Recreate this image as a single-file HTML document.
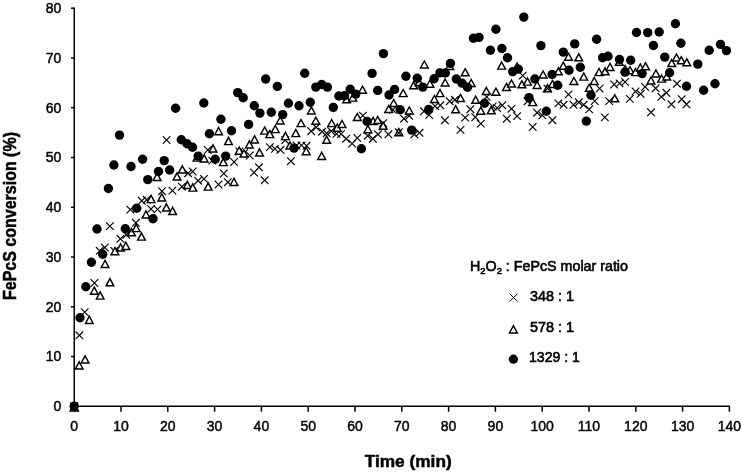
<!DOCTYPE html>
<html><head><meta charset="utf-8"><title>FePcS conversion</title>
<style>
html,body{margin:0;padding:0;background:#fff;}
body{width:742px;height:472px;overflow:hidden;}
svg{display:block;will-change:transform;filter:grayscale(1);}
text{font-family:"Liberation Sans",sans-serif;fill:#000;}
.tk{font-size:14px;stroke:#000;stroke-width:0.45px;}
.lg{font-size:14.5px;stroke:#000;stroke-width:0.6px;}
.ti{font-size:17px;font-weight:bold;stroke:#000;stroke-width:0.5px;}
</style></head><body>
<svg width="742" height="472" viewBox="0 0 742 472">
<rect width="742" height="472" fill="#fff"/>

<g stroke="#000" stroke-width="1.5" fill="none">
<path d="M74.25 7.499999999999999V407.0"/>
<path d="M73.55 406.3H730.1"/>
<path d="M71.0 406.3H74.25"/>
<path d="M71.0 356.5H74.25"/>
<path d="M71.0 306.8H74.25"/>
<path d="M71.0 257.0H74.25"/>
<path d="M71.0 207.3H74.25"/>
<path d="M71.0 157.5H74.25"/>
<path d="M71.0 107.7H74.25"/>
<path d="M71.0 58.0H74.25"/>
<path d="M71.0 8.2H74.25"/>
<path d="M74.2 406.3V411.7"/>
<path d="M121.0 406.3V411.7"/>
<path d="M167.8 406.3V411.7"/>
<path d="M214.6 406.3V411.7"/>
<path d="M261.4 406.3V411.7"/>
<path d="M308.2 406.3V411.7"/>
<path d="M355.0 406.3V411.7"/>
<path d="M401.8 406.3V411.7"/>
<path d="M448.6 406.3V411.7"/>
<path d="M495.4 406.3V411.7"/>
<path d="M542.2 406.3V411.7"/>
<path d="M589.0 406.3V411.7"/>
<path d="M635.8 406.3V411.7"/>
<path d="M682.6 406.3V411.7"/>
<path d="M729.4 406.3V411.7"/>
</g>
<text class="tk" x="61.3" y="411.1" text-anchor="end">0</text>
<text class="tk" x="61.3" y="361.3" text-anchor="end">10</text>
<text class="tk" x="61.3" y="311.6" text-anchor="end">20</text>
<text class="tk" x="61.3" y="261.8" text-anchor="end">30</text>
<text class="tk" x="61.3" y="212.1" text-anchor="end">40</text>
<text class="tk" x="61.3" y="162.3" text-anchor="end">50</text>
<text class="tk" x="61.3" y="112.5" text-anchor="end">60</text>
<text class="tk" x="61.3" y="62.8" text-anchor="end">70</text>
<text class="tk" x="61.3" y="13.0" text-anchor="end">80</text>
<text class="tk" x="74.2" y="430.5" text-anchor="middle">0</text>
<text class="tk" x="121.0" y="430.5" text-anchor="middle">10</text>
<text class="tk" x="167.8" y="430.5" text-anchor="middle">20</text>
<text class="tk" x="214.6" y="430.5" text-anchor="middle">30</text>
<text class="tk" x="261.4" y="430.5" text-anchor="middle">40</text>
<text class="tk" x="308.2" y="430.5" text-anchor="middle">50</text>
<text class="tk" x="355.0" y="430.5" text-anchor="middle">60</text>
<text class="tk" x="401.8" y="430.5" text-anchor="middle">70</text>
<text class="tk" x="448.6" y="430.5" text-anchor="middle">80</text>
<text class="tk" x="495.4" y="430.5" text-anchor="middle">90</text>
<text class="tk" x="542.2" y="430.5" text-anchor="middle">100</text>
<text class="tk" x="589.0" y="430.5" text-anchor="middle">110</text>
<text class="tk" x="635.8" y="430.5" text-anchor="middle">120</text>
<text class="tk" x="682.6" y="430.5" text-anchor="middle">130</text>
<text class="tk" x="729.4" y="430.5" text-anchor="middle">140</text>
<text class="ti" x="408.2" y="466.8" text-anchor="middle" textLength="87" lengthAdjust="spacingAndGlyphs">Time (min)</text>
<text class="ti" transform="translate(15.7 216) rotate(-90)" text-anchor="middle" textLength="168" style="font-size:17.5px" lengthAdjust="spacingAndGlyphs">FePcS conversion (%)</text>
<g id="sx">
<path d="M70.3 402.6L78.2 410.4M70.3 410.4L78.2 402.6" stroke="#000" stroke-width="1.4" fill="none"/>
<path d="M75.6 331.5L83.2 339.1M75.6 339.1L83.2 331.5" stroke="#000" stroke-width="1.15" fill="none"/>
<path d="M80.9 308.3L88.5 315.9M80.9 315.9L88.5 308.3" stroke="#000" stroke-width="1.15" fill="none"/>
<path d="M90.6 279.2L98.2 286.8M90.6 286.8L98.2 279.2" stroke="#000" stroke-width="1.15" fill="none"/>
<path d="M95.9 247.0L103.5 254.6M95.9 254.6L103.5 247.0" stroke="#000" stroke-width="1.15" fill="none"/>
<path d="M101.0 243.7L108.6 251.3M101.0 251.3L108.6 243.7" stroke="#000" stroke-width="1.15" fill="none"/>
<path d="M106.1 222.3L113.7 229.9M106.1 229.9L113.7 222.3" stroke="#000" stroke-width="1.15" fill="none"/>
<path d="M110.5 247.2L118.1 254.8M110.5 254.8L118.1 247.2" stroke="#000" stroke-width="1.15" fill="none"/>
<path d="M116.6 235.0L124.2 242.6M116.6 242.6L124.2 235.0" stroke="#000" stroke-width="1.15" fill="none"/>
<path d="M122.5 231.0L130.1 238.6M122.5 238.6L130.1 231.0" stroke="#000" stroke-width="1.15" fill="none"/>
<path d="M126.5 205.8L134.1 213.4M126.5 213.4L134.1 205.8" stroke="#000" stroke-width="1.15" fill="none"/>
<path d="M132.1 219.0L139.7 226.6M132.1 226.6L139.7 219.0" stroke="#000" stroke-width="1.15" fill="none"/>
<path d="M138.0 197.0L145.6 204.6M138.0 204.6L145.6 197.0" stroke="#000" stroke-width="1.15" fill="none"/>
<path d="M142.9 196.0L150.5 203.6M142.9 203.6L150.5 196.0" stroke="#000" stroke-width="1.15" fill="none"/>
<path d="M147.2 205.2L154.8 212.8M147.2 212.8L154.8 205.2" stroke="#000" stroke-width="1.15" fill="none"/>
<path d="M153.7 205.6L161.3 213.2M153.7 213.2L161.3 205.6" stroke="#000" stroke-width="1.15" fill="none"/>
<path d="M158.2 187.4L165.8 195.0M158.2 195.0L165.8 187.4" stroke="#000" stroke-width="1.15" fill="none"/>
<path d="M162.8 136.2L170.4 143.8M162.8 143.8L170.4 136.2" stroke="#000" stroke-width="1.15" fill="none"/>
<path d="M168.6 186.8L176.2 194.4M168.6 194.4L176.2 186.8" stroke="#000" stroke-width="1.15" fill="none"/>
<path d="M178.1 182.9L185.7 190.5M178.1 190.5L185.7 182.9" stroke="#000" stroke-width="1.15" fill="none"/>
<path d="M184.3 169.4L191.9 177.0M184.3 177.0L191.9 169.4" stroke="#000" stroke-width="1.15" fill="none"/>
<path d="M188.9 167.7L196.5 175.3M188.9 175.3L196.5 167.7" stroke="#000" stroke-width="1.15" fill="none"/>
<path d="M194.3 176.9L201.9 184.5M194.3 184.5L201.9 176.9" stroke="#000" stroke-width="1.15" fill="none"/>
<path d="M200.2 175.1L207.8 182.7M200.2 182.7L207.8 175.1" stroke="#000" stroke-width="1.15" fill="none"/>
<path d="M204.0 146.2L211.6 153.8M204.0 153.8L211.6 146.2" stroke="#000" stroke-width="1.15" fill="none"/>
<path d="M208.5 156.8L216.1 164.4M208.5 164.4L216.1 156.8" stroke="#000" stroke-width="1.15" fill="none"/>
<path d="M214.7 180.7L222.3 188.3M214.7 188.3L222.3 180.7" stroke="#000" stroke-width="1.15" fill="none"/>
<path d="M220.0 169.7L227.6 177.3M220.0 177.3L227.6 169.7" stroke="#000" stroke-width="1.15" fill="none"/>
<path d="M224.1 178.4L231.7 186.0M224.1 186.0L231.7 178.4" stroke="#000" stroke-width="1.15" fill="none"/>
<path d="M230.3 158.2L237.9 165.8M230.3 165.8L237.9 158.2" stroke="#000" stroke-width="1.15" fill="none"/>
<path d="M235.6 147.7L243.2 155.3M235.6 155.3L243.2 147.7" stroke="#000" stroke-width="1.15" fill="none"/>
<path d="M240.4 149.2L248.0 156.8M240.4 156.8L248.0 149.2" stroke="#000" stroke-width="1.15" fill="none"/>
<path d="M245.9 151.7L253.5 159.3M245.9 159.3L253.5 151.7" stroke="#000" stroke-width="1.15" fill="none"/>
<path d="M250.2 168.7L257.8 176.3M250.2 176.3L257.8 168.7" stroke="#000" stroke-width="1.15" fill="none"/>
<path d="M255.2 163.5L262.8 171.1M255.2 171.1L262.8 163.5" stroke="#000" stroke-width="1.15" fill="none"/>
<path d="M260.9 176.5L268.5 184.1M260.9 184.1L268.5 176.5" stroke="#000" stroke-width="1.15" fill="none"/>
<path d="M266.1 143.3L273.7 150.9M266.1 150.9L273.7 143.3" stroke="#000" stroke-width="1.15" fill="none"/>
<path d="M271.2 145.1L278.8 152.7M271.2 152.7L278.8 145.1" stroke="#000" stroke-width="1.15" fill="none"/>
<path d="M276.7 146.0L284.3 153.6M276.7 153.6L284.3 146.0" stroke="#000" stroke-width="1.15" fill="none"/>
<path d="M281.4 136.4L289.0 144.0M281.4 144.0L289.0 136.4" stroke="#000" stroke-width="1.15" fill="none"/>
<path d="M287.1 157.4L294.7 165.0M287.1 165.0L294.7 157.4" stroke="#000" stroke-width="1.15" fill="none"/>
<path d="M292.7 141.7L300.3 149.3M292.7 149.3L300.3 141.7" stroke="#000" stroke-width="1.15" fill="none"/>
<path d="M297.7 141.6L305.3 149.2M297.7 149.2L305.3 141.6" stroke="#000" stroke-width="1.15" fill="none"/>
<path d="M302.8 142.0L310.4 149.6M302.8 149.6L310.4 142.0" stroke="#000" stroke-width="1.15" fill="none"/>
<path d="M307.3 127.4L314.9 135.0M307.3 135.0L314.9 127.4" stroke="#000" stroke-width="1.15" fill="none"/>
<path d="M312.4 123.5L320.0 131.1M312.4 131.1L320.0 123.5" stroke="#000" stroke-width="1.15" fill="none"/>
<path d="M318.3 127.9L325.9 135.5M318.3 135.5L325.9 127.9" stroke="#000" stroke-width="1.15" fill="none"/>
<path d="M322.9 129.5L330.5 137.1M322.9 137.1L330.5 129.5" stroke="#000" stroke-width="1.15" fill="none"/>
<path d="M327.5 127.4L335.1 135.0M327.5 135.0L335.1 127.4" stroke="#000" stroke-width="1.15" fill="none"/>
<path d="M332.7 130.1L340.3 137.7M332.7 137.7L340.3 130.1" stroke="#000" stroke-width="1.15" fill="none"/>
<path d="M337.2 130.2L344.8 137.8M337.2 137.8L344.8 130.2" stroke="#000" stroke-width="1.15" fill="none"/>
<path d="M342.4 134.9L350.0 142.5M342.4 142.5L350.0 134.9" stroke="#000" stroke-width="1.15" fill="none"/>
<path d="M348.3 139.8L355.9 147.4M348.3 147.4L355.9 139.8" stroke="#000" stroke-width="1.15" fill="none"/>
<path d="M353.5 134.2L361.1 141.8M353.5 141.8L361.1 134.2" stroke="#000" stroke-width="1.15" fill="none"/>
<path d="M359.1 111.8L366.7 119.4M359.1 119.4L366.7 111.8" stroke="#000" stroke-width="1.15" fill="none"/>
<path d="M363.9 132.0L371.5 139.6M363.9 139.6L371.5 132.0" stroke="#000" stroke-width="1.15" fill="none"/>
<path d="M369.0 134.9L376.6 142.5M369.0 142.5L376.6 134.9" stroke="#000" stroke-width="1.15" fill="none"/>
<path d="M374.2 130.5L381.8 138.1M374.2 138.1L381.8 130.5" stroke="#000" stroke-width="1.15" fill="none"/>
<path d="M379.4 119.4L387.0 127.0M379.4 127.0L387.0 119.4" stroke="#000" stroke-width="1.15" fill="none"/>
<path d="M384.6 130.5L392.2 138.1M384.6 138.1L392.2 130.5" stroke="#000" stroke-width="1.15" fill="none"/>
<path d="M389.1 106.0L396.7 113.6M389.1 113.6L396.7 106.0" stroke="#000" stroke-width="1.15" fill="none"/>
<path d="M395.0 128.3L402.6 135.9M395.0 135.9L402.6 128.3" stroke="#000" stroke-width="1.15" fill="none"/>
<path d="M400.2 114.9L407.8 122.5M400.2 122.5L407.8 114.9" stroke="#000" stroke-width="1.15" fill="none"/>
<path d="M405.4 112.0L413.0 119.6M405.4 119.6L413.0 112.0" stroke="#000" stroke-width="1.15" fill="none"/>
<path d="M410.6 130.5L418.2 138.1M410.6 138.1L418.2 130.5" stroke="#000" stroke-width="1.15" fill="none"/>
<path d="M415.7 129.0L423.3 136.6M415.7 136.6L423.3 129.0" stroke="#000" stroke-width="1.15" fill="none"/>
<path d="M420.2 107.5L427.8 115.1M420.2 115.1L427.8 107.5" stroke="#000" stroke-width="1.15" fill="none"/>
<path d="M425.4 111.2L433.0 118.8M425.4 118.8L433.0 111.2" stroke="#000" stroke-width="1.15" fill="none"/>
<path d="M431.3 102.3L438.9 109.9M431.3 109.9L438.9 102.3" stroke="#000" stroke-width="1.15" fill="none"/>
<path d="M436.5 101.5L444.1 109.1M436.5 109.1L444.1 101.5" stroke="#000" stroke-width="1.15" fill="none"/>
<path d="M441.1 116.5L448.7 124.1M441.1 124.1L448.7 116.5" stroke="#000" stroke-width="1.15" fill="none"/>
<path d="M445.9 97.5L453.5 105.1M445.9 105.1L453.5 97.5" stroke="#000" stroke-width="1.15" fill="none"/>
<path d="M451.1 96.0L458.7 103.6M451.1 103.6L458.7 96.0" stroke="#000" stroke-width="1.15" fill="none"/>
<path d="M456.7 126.1L464.3 133.7M456.7 133.7L464.3 126.1" stroke="#000" stroke-width="1.15" fill="none"/>
<path d="M461.4 113.8L469.0 121.4M461.4 121.4L469.0 113.8" stroke="#000" stroke-width="1.15" fill="none"/>
<path d="M466.6 105.4L474.2 113.0M466.6 113.0L474.2 105.4" stroke="#000" stroke-width="1.15" fill="none"/>
<path d="M471.5 113.4L479.1 121.0M471.5 121.0L479.1 113.4" stroke="#000" stroke-width="1.15" fill="none"/>
<path d="M477.0 119.8L484.6 127.4M477.0 127.4L484.6 119.8" stroke="#000" stroke-width="1.15" fill="none"/>
<path d="M482.9 93.1L490.5 100.7M482.9 100.7L490.5 93.1" stroke="#000" stroke-width="1.15" fill="none"/>
<path d="M488.9 102.7L496.5 110.3M488.9 110.3L496.5 102.7" stroke="#000" stroke-width="1.15" fill="none"/>
<path d="M493.3 104.2L500.9 111.8M493.3 111.8L500.9 104.2" stroke="#000" stroke-width="1.15" fill="none"/>
<path d="M498.5 101.5L506.1 109.1M498.5 109.1L506.1 101.5" stroke="#000" stroke-width="1.15" fill="none"/>
<path d="M503.0 114.9L510.6 122.5M503.0 122.5L510.6 114.9" stroke="#000" stroke-width="1.15" fill="none"/>
<path d="M507.7 104.9L515.3 112.5M507.7 112.5L515.3 104.9" stroke="#000" stroke-width="1.15" fill="none"/>
<path d="M513.3 112.3L520.9 119.9M513.3 119.9L520.9 112.3" stroke="#000" stroke-width="1.15" fill="none"/>
<path d="M518.9 71.8L526.5 79.4M518.9 79.4L526.5 71.8" stroke="#000" stroke-width="1.15" fill="none"/>
<path d="M523.7 97.5L531.3 105.1M523.7 105.1L531.3 97.5" stroke="#000" stroke-width="1.15" fill="none"/>
<path d="M528.9 123.2L536.5 130.8M528.9 130.8L536.5 123.2" stroke="#000" stroke-width="1.15" fill="none"/>
<path d="M533.3 108.9L540.9 116.5M533.3 116.5L540.9 108.9" stroke="#000" stroke-width="1.15" fill="none"/>
<path d="M538.5 111.6L546.1 119.2M538.5 119.2L546.1 111.6" stroke="#000" stroke-width="1.15" fill="none"/>
<path d="M543.7 84.9L551.3 92.5M543.7 92.5L551.3 84.9" stroke="#000" stroke-width="1.15" fill="none"/>
<path d="M548.6 116.4L556.2 124.0M548.6 124.0L556.2 116.4" stroke="#000" stroke-width="1.15" fill="none"/>
<path d="M554.6 99.6L562.2 107.2M554.6 107.2L562.2 99.6" stroke="#000" stroke-width="1.15" fill="none"/>
<path d="M559.8 101.0L567.4 108.6M559.8 108.6L567.4 101.0" stroke="#000" stroke-width="1.15" fill="none"/>
<path d="M564.7 90.7L572.3 98.3M564.7 98.3L572.3 90.7" stroke="#000" stroke-width="1.15" fill="none"/>
<path d="M569.7 101.0L577.3 108.6M569.7 108.6L577.3 101.0" stroke="#000" stroke-width="1.15" fill="none"/>
<path d="M575.0 98.5L582.6 106.1M575.0 106.1L582.6 98.5" stroke="#000" stroke-width="1.15" fill="none"/>
<path d="M579.8 101.0L587.4 108.6M579.8 108.6L587.4 101.0" stroke="#000" stroke-width="1.15" fill="none"/>
<path d="M585.4 105.5L593.0 113.1M585.4 113.1L593.0 105.5" stroke="#000" stroke-width="1.15" fill="none"/>
<path d="M590.9 97.3L598.5 104.9M590.9 104.9L598.5 97.3" stroke="#000" stroke-width="1.15" fill="none"/>
<path d="M595.8 84.7L603.4 92.3M595.8 92.3L603.4 84.7" stroke="#000" stroke-width="1.15" fill="none"/>
<path d="M601.0 113.6L608.6 121.2M601.0 121.2L608.6 113.6" stroke="#000" stroke-width="1.15" fill="none"/>
<path d="M605.4 97.3L613.0 104.9M605.4 104.9L613.0 97.3" stroke="#000" stroke-width="1.15" fill="none"/>
<path d="M610.4 80.7L618.0 88.3M610.4 88.3L618.0 80.7" stroke="#000" stroke-width="1.15" fill="none"/>
<path d="M615.8 79.6L623.4 87.2M615.8 87.2L623.4 79.6" stroke="#000" stroke-width="1.15" fill="none"/>
<path d="M621.3 78.2L628.9 85.8M621.3 85.8L628.9 78.2" stroke="#000" stroke-width="1.15" fill="none"/>
<path d="M626.0 95.1L633.6 102.7M626.0 102.7L633.6 95.1" stroke="#000" stroke-width="1.15" fill="none"/>
<path d="M631.7 87.7L639.3 95.3M631.7 95.3L639.3 87.7" stroke="#000" stroke-width="1.15" fill="none"/>
<path d="M636.8 90.0L644.4 97.6M636.8 97.6L644.4 90.0" stroke="#000" stroke-width="1.15" fill="none"/>
<path d="M641.3 83.1L648.9 90.7M641.3 90.7L648.9 83.1" stroke="#000" stroke-width="1.15" fill="none"/>
<path d="M647.2 108.5L654.8 116.1M647.2 116.1L654.8 108.5" stroke="#000" stroke-width="1.15" fill="none"/>
<path d="M651.8 84.5L659.4 92.1M651.8 92.1L659.4 84.5" stroke="#000" stroke-width="1.15" fill="none"/>
<path d="M657.5 93.1L665.1 100.7M657.5 100.7L665.1 93.1" stroke="#000" stroke-width="1.15" fill="none"/>
<path d="M662.6 89.0L670.2 96.6M662.6 96.6L670.2 89.0" stroke="#000" stroke-width="1.15" fill="none"/>
<path d="M667.6 100.5L675.2 108.1M667.6 108.1L675.2 100.5" stroke="#000" stroke-width="1.15" fill="none"/>
<path d="M673.1 79.9L680.7 87.5M673.1 87.5L680.7 79.9" stroke="#000" stroke-width="1.15" fill="none"/>
<path d="M677.9 95.4L685.5 103.0M677.9 103.0L685.5 95.4" stroke="#000" stroke-width="1.15" fill="none"/>
<path d="M682.7 100.5L690.3 108.1M682.7 108.1L690.3 100.5" stroke="#000" stroke-width="1.15" fill="none"/>
</g><g id="st">
<path d="M74.2 403.2L78.3 411.0L70.2 411.0Z" stroke="#000" stroke-width="1.45" fill="#fff" stroke-linejoin="miter"/>
<path d="M79.2 361.8L83.0 368.9L75.4 368.9Z" stroke="#000" stroke-width="1.45" fill="#fff" stroke-linejoin="miter"/>
<path d="M85.1 355.8L88.9 362.9L81.2 362.9Z" stroke="#000" stroke-width="1.45" fill="#fff" stroke-linejoin="miter"/>
<path d="M89.3 316.2L93.1 323.4L85.5 323.4Z" stroke="#000" stroke-width="1.45" fill="#fff" stroke-linejoin="miter"/>
<path d="M94.3 287.1L98.1 294.2L90.5 294.2Z" stroke="#000" stroke-width="1.45" fill="#fff" stroke-linejoin="miter"/>
<path d="M100.2 291.9L104.0 299.1L96.4 299.1Z" stroke="#000" stroke-width="1.45" fill="#fff" stroke-linejoin="miter"/>
<path d="M105.1 260.3L108.9 267.4L101.2 267.4Z" stroke="#000" stroke-width="1.45" fill="#fff" stroke-linejoin="miter"/>
<path d="M109.9 278.6L113.8 285.8L106.1 285.8Z" stroke="#000" stroke-width="1.45" fill="#fff" stroke-linejoin="miter"/>
<path d="M115.0 247.5L118.8 254.7L111.2 254.7Z" stroke="#000" stroke-width="1.45" fill="#fff" stroke-linejoin="miter"/>
<path d="M120.6 243.8L124.4 251.0L116.8 251.0Z" stroke="#000" stroke-width="1.45" fill="#fff" stroke-linejoin="miter"/>
<path d="M125.8 242.2L129.7 249.4L122.0 249.4Z" stroke="#000" stroke-width="1.45" fill="#fff" stroke-linejoin="miter"/>
<path d="M131.5 228.6L135.3 235.8L127.7 235.8Z" stroke="#000" stroke-width="1.45" fill="#fff" stroke-linejoin="miter"/>
<path d="M136.2 224.4L140.0 231.6L132.3 231.6Z" stroke="#000" stroke-width="1.45" fill="#fff" stroke-linejoin="miter"/>
<path d="M141.5 232.9L145.3 240.1L137.7 240.1Z" stroke="#000" stroke-width="1.45" fill="#fff" stroke-linejoin="miter"/>
<path d="M146.0 210.8L149.8 218.0L142.2 218.0Z" stroke="#000" stroke-width="1.45" fill="#fff" stroke-linejoin="miter"/>
<path d="M151.1 195.4L154.9 202.6L147.2 202.6Z" stroke="#000" stroke-width="1.45" fill="#fff" stroke-linejoin="miter"/>
<path d="M157.1 173.2L160.9 180.4L153.2 180.4Z" stroke="#000" stroke-width="1.45" fill="#fff" stroke-linejoin="miter"/>
<path d="M161.8 193.8L165.7 201.0L158.0 201.0Z" stroke="#000" stroke-width="1.45" fill="#fff" stroke-linejoin="miter"/>
<path d="M166.4 203.8L170.2 211.0L162.6 211.0Z" stroke="#000" stroke-width="1.45" fill="#fff" stroke-linejoin="miter"/>
<path d="M172.6 207.2L176.4 214.4L168.8 214.4Z" stroke="#000" stroke-width="1.45" fill="#fff" stroke-linejoin="miter"/>
<path d="M177.0 172.8L180.8 180.0L173.2 180.0Z" stroke="#000" stroke-width="1.45" fill="#fff" stroke-linejoin="miter"/>
<path d="M182.3 165.8L186.2 172.9L178.5 172.9Z" stroke="#000" stroke-width="1.45" fill="#fff" stroke-linejoin="miter"/>
<path d="M187.4 181.3L191.2 188.5L183.6 188.5Z" stroke="#000" stroke-width="1.45" fill="#fff" stroke-linejoin="miter"/>
<path d="M192.8 183.9L196.7 191.1L189.0 191.1Z" stroke="#000" stroke-width="1.45" fill="#fff" stroke-linejoin="miter"/>
<path d="M197.0 153.9L200.8 161.1L193.2 161.1Z" stroke="#000" stroke-width="1.45" fill="#fff" stroke-linejoin="miter"/>
<path d="M204.2 154.8L208.0 162.0L200.3 162.0Z" stroke="#000" stroke-width="1.45" fill="#fff" stroke-linejoin="miter"/>
<path d="M208.2 182.9L212.0 190.1L204.3 190.1Z" stroke="#000" stroke-width="1.45" fill="#fff" stroke-linejoin="miter"/>
<path d="M213.0 144.8L216.8 152.0L209.2 152.0Z" stroke="#000" stroke-width="1.45" fill="#fff" stroke-linejoin="miter"/>
<path d="M218.6 127.5L222.4 134.7L214.8 134.7Z" stroke="#000" stroke-width="1.45" fill="#fff" stroke-linejoin="miter"/>
<path d="M223.3 158.4L227.2 165.6L219.5 165.6Z" stroke="#000" stroke-width="1.45" fill="#fff" stroke-linejoin="miter"/>
<path d="M228.5 137.4L232.3 144.6L224.7 144.6Z" stroke="#000" stroke-width="1.45" fill="#fff" stroke-linejoin="miter"/>
<path d="M234.0 178.2L237.8 185.4L230.2 185.4Z" stroke="#000" stroke-width="1.45" fill="#fff" stroke-linejoin="miter"/>
<path d="M239.2 147.0L243.0 154.2L235.3 154.2Z" stroke="#000" stroke-width="1.45" fill="#fff" stroke-linejoin="miter"/>
<path d="M243.9 149.8L247.8 157.0L240.1 157.0Z" stroke="#000" stroke-width="1.45" fill="#fff" stroke-linejoin="miter"/>
<path d="M249.4 140.8L253.2 148.0L245.6 148.0Z" stroke="#000" stroke-width="1.45" fill="#fff" stroke-linejoin="miter"/>
<path d="M254.6 135.8L258.4 143.0L250.8 143.0Z" stroke="#000" stroke-width="1.45" fill="#fff" stroke-linejoin="miter"/>
<path d="M259.5 148.8L263.4 155.9L255.7 155.9Z" stroke="#000" stroke-width="1.45" fill="#fff" stroke-linejoin="miter"/>
<path d="M264.7 127.0L268.6 134.1L260.8 134.1Z" stroke="#000" stroke-width="1.45" fill="#fff" stroke-linejoin="miter"/>
<path d="M269.8 130.4L273.7 137.6L265.9 137.6Z" stroke="#000" stroke-width="1.45" fill="#fff" stroke-linejoin="miter"/>
<path d="M275.3 125.5L279.2 132.6L271.4 132.6Z" stroke="#000" stroke-width="1.45" fill="#fff" stroke-linejoin="miter"/>
<path d="M280.2 117.0L284.1 124.0L276.3 124.0Z" stroke="#000" stroke-width="1.45" fill="#fff" stroke-linejoin="miter"/>
<path d="M285.4 132.4L289.2 139.6L281.5 139.6Z" stroke="#000" stroke-width="1.45" fill="#fff" stroke-linejoin="miter"/>
<path d="M290.0 141.8L293.9 149.0L286.1 149.0Z" stroke="#000" stroke-width="1.45" fill="#fff" stroke-linejoin="miter"/>
<path d="M295.8 129.4L299.7 136.6L291.9 136.6Z" stroke="#000" stroke-width="1.45" fill="#fff" stroke-linejoin="miter"/>
<path d="M301.0 119.5L304.9 126.6L297.1 126.6Z" stroke="#000" stroke-width="1.45" fill="#fff" stroke-linejoin="miter"/>
<path d="M306.2 147.5L310.1 154.7L302.3 154.7Z" stroke="#000" stroke-width="1.45" fill="#fff" stroke-linejoin="miter"/>
<path d="M311.4 106.9L315.2 114.0L307.5 114.0Z" stroke="#000" stroke-width="1.45" fill="#fff" stroke-linejoin="miter"/>
<path d="M315.8 117.2L319.7 124.2L311.9 124.2Z" stroke="#000" stroke-width="1.45" fill="#fff" stroke-linejoin="miter"/>
<path d="M321.7 152.3L325.6 159.5L317.8 159.5Z" stroke="#000" stroke-width="1.45" fill="#fff" stroke-linejoin="miter"/>
<path d="M326.6 136.1L330.5 143.2L322.8 143.2Z" stroke="#000" stroke-width="1.45" fill="#fff" stroke-linejoin="miter"/>
<path d="M331.7 119.5L335.6 126.6L327.8 126.6Z" stroke="#000" stroke-width="1.45" fill="#fff" stroke-linejoin="miter"/>
<path d="M337.3 124.0L341.2 131.2L333.4 131.2Z" stroke="#000" stroke-width="1.45" fill="#fff" stroke-linejoin="miter"/>
<path d="M342.0 120.5L345.9 127.5L338.1 127.5Z" stroke="#000" stroke-width="1.45" fill="#fff" stroke-linejoin="miter"/>
<path d="M346.6 95.8L350.5 102.8L342.8 102.8Z" stroke="#000" stroke-width="1.45" fill="#fff" stroke-linejoin="miter"/>
<path d="M352.8 94.0L356.7 101.1L348.9 101.1Z" stroke="#000" stroke-width="1.45" fill="#fff" stroke-linejoin="miter"/>
<path d="M357.3 113.4L361.2 120.5L353.4 120.5Z" stroke="#000" stroke-width="1.45" fill="#fff" stroke-linejoin="miter"/>
<path d="M362.5 86.2L366.4 93.2L358.6 93.2Z" stroke="#000" stroke-width="1.45" fill="#fff" stroke-linejoin="miter"/>
<path d="M367.9 125.5L371.8 132.7L364.0 132.7Z" stroke="#000" stroke-width="1.45" fill="#fff" stroke-linejoin="miter"/>
<path d="M373.1 117.4L377.0 124.5L369.2 124.5Z" stroke="#000" stroke-width="1.45" fill="#fff" stroke-linejoin="miter"/>
<path d="M377.7 116.4L381.6 123.5L373.8 123.5Z" stroke="#000" stroke-width="1.45" fill="#fff" stroke-linejoin="miter"/>
<path d="M383.2 122.2L387.1 129.3L379.3 129.3Z" stroke="#000" stroke-width="1.45" fill="#fff" stroke-linejoin="miter"/>
<path d="M388.7 105.5L392.6 112.5L384.8 112.5Z" stroke="#000" stroke-width="1.45" fill="#fff" stroke-linejoin="miter"/>
<path d="M393.6 99.4L397.5 106.5L389.8 106.5Z" stroke="#000" stroke-width="1.45" fill="#fff" stroke-linejoin="miter"/>
<path d="M398.8 128.5L402.7 135.7L394.9 135.7Z" stroke="#000" stroke-width="1.45" fill="#fff" stroke-linejoin="miter"/>
<path d="M403.2 89.5L407.1 96.6L399.3 96.6Z" stroke="#000" stroke-width="1.45" fill="#fff" stroke-linejoin="miter"/>
<path d="M409.3 107.0L413.2 114.0L405.4 114.0Z" stroke="#000" stroke-width="1.45" fill="#fff" stroke-linejoin="miter"/>
<path d="M413.6 81.7L417.5 88.8L409.8 88.8Z" stroke="#000" stroke-width="1.45" fill="#fff" stroke-linejoin="miter"/>
<path d="M419.2 78.8L423.1 85.8L415.3 85.8Z" stroke="#000" stroke-width="1.45" fill="#fff" stroke-linejoin="miter"/>
<path d="M424.4 61.0L428.2 68.0L420.5 68.0Z" stroke="#000" stroke-width="1.45" fill="#fff" stroke-linejoin="miter"/>
<path d="M429.9 80.2L433.8 87.2L426.0 87.2Z" stroke="#000" stroke-width="1.45" fill="#fff" stroke-linejoin="miter"/>
<path d="M434.4 95.5L438.2 102.5L430.5 102.5Z" stroke="#000" stroke-width="1.45" fill="#fff" stroke-linejoin="miter"/>
<path d="M440.0 89.5L443.9 96.6L436.1 96.6Z" stroke="#000" stroke-width="1.45" fill="#fff" stroke-linejoin="miter"/>
<path d="M445.1 79.0L449.0 86.0L441.2 86.0Z" stroke="#000" stroke-width="1.45" fill="#fff" stroke-linejoin="miter"/>
<path d="M449.7 62.5L453.6 69.5L445.8 69.5Z" stroke="#000" stroke-width="1.45" fill="#fff" stroke-linejoin="miter"/>
<path d="M455.6 105.7L459.5 112.8L451.8 112.8Z" stroke="#000" stroke-width="1.45" fill="#fff" stroke-linejoin="miter"/>
<path d="M460.5 94.4L464.4 101.5L456.6 101.5Z" stroke="#000" stroke-width="1.45" fill="#fff" stroke-linejoin="miter"/>
<path d="M465.2 68.7L469.1 75.8L461.3 75.8Z" stroke="#000" stroke-width="1.45" fill="#fff" stroke-linejoin="miter"/>
<path d="M471.2 79.5L475.1 86.5L467.3 86.5Z" stroke="#000" stroke-width="1.45" fill="#fff" stroke-linejoin="miter"/>
<path d="M475.6 96.2L479.5 103.3L471.8 103.3Z" stroke="#000" stroke-width="1.45" fill="#fff" stroke-linejoin="miter"/>
<path d="M480.8 107.2L484.7 114.2L476.9 114.2Z" stroke="#000" stroke-width="1.45" fill="#fff" stroke-linejoin="miter"/>
<path d="M486.3 87.4L490.2 94.5L482.4 94.5Z" stroke="#000" stroke-width="1.45" fill="#fff" stroke-linejoin="miter"/>
<path d="M491.2 106.7L495.1 113.8L487.3 113.8Z" stroke="#000" stroke-width="1.45" fill="#fff" stroke-linejoin="miter"/>
<path d="M495.9 88.2L499.8 95.2L492.0 95.2Z" stroke="#000" stroke-width="1.45" fill="#fff" stroke-linejoin="miter"/>
<path d="M501.6 62.0L505.5 69.1L497.8 69.1Z" stroke="#000" stroke-width="1.45" fill="#fff" stroke-linejoin="miter"/>
<path d="M506.5 83.4L510.4 90.5L502.6 90.5Z" stroke="#000" stroke-width="1.45" fill="#fff" stroke-linejoin="miter"/>
<path d="M511.5 80.0L515.4 87.0L507.6 87.0Z" stroke="#000" stroke-width="1.45" fill="#fff" stroke-linejoin="miter"/>
<path d="M517.1 63.0L521.0 70.0L513.2 70.0Z" stroke="#000" stroke-width="1.45" fill="#fff" stroke-linejoin="miter"/>
<path d="M521.9 80.8L525.8 87.8L518.0 87.8Z" stroke="#000" stroke-width="1.45" fill="#fff" stroke-linejoin="miter"/>
<path d="M527.5 78.0L531.4 85.1L523.6 85.1Z" stroke="#000" stroke-width="1.45" fill="#fff" stroke-linejoin="miter"/>
<path d="M532.7 98.5L536.6 105.6L528.9 105.6Z" stroke="#000" stroke-width="1.45" fill="#fff" stroke-linejoin="miter"/>
<path d="M537.1 81.5L541.0 88.5L533.2 88.5Z" stroke="#000" stroke-width="1.45" fill="#fff" stroke-linejoin="miter"/>
<path d="M543.1 71.0L547.0 78.0L539.2 78.0Z" stroke="#000" stroke-width="1.45" fill="#fff" stroke-linejoin="miter"/>
<path d="M547.5 84.7L551.4 91.8L543.6 91.8Z" stroke="#000" stroke-width="1.45" fill="#fff" stroke-linejoin="miter"/>
<path d="M552.5 80.5L556.4 87.5L548.6 87.5Z" stroke="#000" stroke-width="1.45" fill="#fff" stroke-linejoin="miter"/>
<path d="M558.4 67.8L562.2 74.8L554.5 74.8Z" stroke="#000" stroke-width="1.45" fill="#fff" stroke-linejoin="miter"/>
<path d="M563.3 62.2L567.1 69.2L559.4 69.2Z" stroke="#000" stroke-width="1.45" fill="#fff" stroke-linejoin="miter"/>
<path d="M568.5 53.2L572.4 60.3L564.6 60.3Z" stroke="#000" stroke-width="1.45" fill="#fff" stroke-linejoin="miter"/>
<path d="M573.9 77.5L577.8 84.5L570.0 84.5Z" stroke="#000" stroke-width="1.45" fill="#fff" stroke-linejoin="miter"/>
<path d="M578.8 53.8L582.6 60.8L574.9 60.8Z" stroke="#000" stroke-width="1.45" fill="#fff" stroke-linejoin="miter"/>
<path d="M583.8 73.0L587.6 80.1L579.9 80.1Z" stroke="#000" stroke-width="1.45" fill="#fff" stroke-linejoin="miter"/>
<path d="M589.2 84.2L593.1 91.3L585.4 91.3Z" stroke="#000" stroke-width="1.45" fill="#fff" stroke-linejoin="miter"/>
<path d="M594.2 77.5L598.1 84.5L590.4 84.5Z" stroke="#000" stroke-width="1.45" fill="#fff" stroke-linejoin="miter"/>
<path d="M599.1 68.5L603.0 75.6L595.2 75.6Z" stroke="#000" stroke-width="1.45" fill="#fff" stroke-linejoin="miter"/>
<path d="M605.1 67.8L609.0 74.8L601.2 74.8Z" stroke="#000" stroke-width="1.45" fill="#fff" stroke-linejoin="miter"/>
<path d="M610.0 63.4L613.9 70.5L606.1 70.5Z" stroke="#000" stroke-width="1.45" fill="#fff" stroke-linejoin="miter"/>
<path d="M614.7 94.7L618.6 101.8L610.9 101.8Z" stroke="#000" stroke-width="1.45" fill="#fff" stroke-linejoin="miter"/>
<path d="M619.2 58.2L623.1 65.2L615.4 65.2Z" stroke="#000" stroke-width="1.45" fill="#fff" stroke-linejoin="miter"/>
<path d="M625.1 65.5L629.0 72.6L621.2 72.6Z" stroke="#000" stroke-width="1.45" fill="#fff" stroke-linejoin="miter"/>
<path d="M630.0 66.7L633.9 73.8L626.1 73.8Z" stroke="#000" stroke-width="1.45" fill="#fff" stroke-linejoin="miter"/>
<path d="M635.5 68.5L639.4 75.6L631.6 75.6Z" stroke="#000" stroke-width="1.45" fill="#fff" stroke-linejoin="miter"/>
<path d="M640.3 63.9L644.1 71.0L636.4 71.0Z" stroke="#000" stroke-width="1.45" fill="#fff" stroke-linejoin="miter"/>
<path d="M645.5 62.7L649.4 69.8L641.6 69.8Z" stroke="#000" stroke-width="1.45" fill="#fff" stroke-linejoin="miter"/>
<path d="M651.0 76.9L654.9 84.0L647.1 84.0Z" stroke="#000" stroke-width="1.45" fill="#fff" stroke-linejoin="miter"/>
<path d="M655.9 69.9L659.8 77.0L652.0 77.0Z" stroke="#000" stroke-width="1.45" fill="#fff" stroke-linejoin="miter"/>
<path d="M661.6 75.0L665.5 82.1L657.8 82.1Z" stroke="#000" stroke-width="1.45" fill="#fff" stroke-linejoin="miter"/>
<path d="M666.8 73.0L670.6 80.0L662.9 80.0Z" stroke="#000" stroke-width="1.45" fill="#fff" stroke-linejoin="miter"/>
<path d="M671.7 59.5L675.6 66.5L667.9 66.5Z" stroke="#000" stroke-width="1.45" fill="#fff" stroke-linejoin="miter"/>
<path d="M676.5 54.0L680.4 61.0L672.6 61.0Z" stroke="#000" stroke-width="1.45" fill="#fff" stroke-linejoin="miter"/>
<path d="M681.3 56.7L685.1 63.8L677.4 63.8Z" stroke="#000" stroke-width="1.45" fill="#fff" stroke-linejoin="miter"/>
<path d="M686.8 58.8L690.6 65.8L682.9 65.8Z" stroke="#000" stroke-width="1.45" fill="#fff" stroke-linejoin="miter"/>
</g>
<path d="M396.2 130.4L401.4 135.6M396.2 135.6L401.4 130.4" stroke="#000" stroke-width="1.2" fill="none"/>
<path d="M545.0 86.0L550.2 91.2M545.0 91.2L550.2 86.0" stroke="#000" stroke-width="1.2" fill="none"/>
<g id="sc">
<circle cx="74.2" cy="406.3" r="4.7" fill="#000"/>
<circle cx="80.0" cy="317.8" r="4.7" fill="#000"/>
<circle cx="85.8" cy="286.7" r="4.7" fill="#000"/>
<circle cx="91.4" cy="262.2" r="4.7" fill="#000"/>
<circle cx="97.0" cy="229.0" r="4.7" fill="#000"/>
<circle cx="102.7" cy="254.3" r="4.7" fill="#000"/>
<circle cx="108.4" cy="188.5" r="4.7" fill="#000"/>
<circle cx="113.9" cy="165.0" r="4.7" fill="#000"/>
<circle cx="119.5" cy="135.1" r="4.7" fill="#000"/>
<circle cx="125.3" cy="228.7" r="4.7" fill="#000"/>
<circle cx="131.0" cy="166.5" r="4.7" fill="#000"/>
<circle cx="136.7" cy="208.2" r="4.7" fill="#000"/>
<circle cx="142.6" cy="159.2" r="4.7" fill="#000"/>
<circle cx="147.8" cy="179.6" r="4.7" fill="#000"/>
<circle cx="153.0" cy="218.7" r="4.7" fill="#000"/>
<circle cx="158.5" cy="171.5" r="4.7" fill="#000"/>
<circle cx="164.2" cy="160.6" r="4.7" fill="#000"/>
<circle cx="169.7" cy="170.0" r="4.7" fill="#000"/>
<circle cx="175.6" cy="108.2" r="4.7" fill="#000"/>
<circle cx="181.3" cy="139.7" r="4.7" fill="#000"/>
<circle cx="187.0" cy="143.7" r="4.7" fill="#000"/>
<circle cx="192.5" cy="147.2" r="4.7" fill="#000"/>
<circle cx="198.2" cy="156.1" r="4.7" fill="#000"/>
<circle cx="203.8" cy="103.0" r="4.7" fill="#000"/>
<circle cx="209.4" cy="133.8" r="4.7" fill="#000"/>
<circle cx="215.2" cy="159.3" r="4.7" fill="#000"/>
<circle cx="220.9" cy="119.3" r="4.7" fill="#000"/>
<circle cx="225.7" cy="156.1" r="4.7" fill="#000"/>
<circle cx="231.5" cy="130.8" r="4.7" fill="#000"/>
<circle cx="237.7" cy="92.6" r="4.7" fill="#000"/>
<circle cx="243.2" cy="97.8" r="4.7" fill="#000"/>
<circle cx="248.6" cy="124.4" r="4.7" fill="#000"/>
<circle cx="254.3" cy="105.7" r="4.7" fill="#000"/>
<circle cx="259.9" cy="113.1" r="4.7" fill="#000"/>
<circle cx="265.7" cy="79.0" r="4.7" fill="#000"/>
<circle cx="271.3" cy="112.2" r="4.7" fill="#000"/>
<circle cx="277.3" cy="86.4" r="4.7" fill="#000"/>
<circle cx="282.7" cy="114.6" r="4.7" fill="#000"/>
<circle cx="288.4" cy="103.3" r="4.7" fill="#000"/>
<circle cx="294.0" cy="148.1" r="4.7" fill="#000"/>
<circle cx="299.0" cy="105.7" r="4.7" fill="#000"/>
<circle cx="304.7" cy="73.3" r="4.7" fill="#000"/>
<circle cx="310.3" cy="102.3" r="4.7" fill="#000"/>
<circle cx="315.8" cy="87.1" r="4.7" fill="#000"/>
<circle cx="321.7" cy="84.5" r="4.7" fill="#000"/>
<circle cx="327.4" cy="87.1" r="4.7" fill="#000"/>
<circle cx="333.3" cy="107.4" r="4.7" fill="#000"/>
<circle cx="338.9" cy="96.0" r="4.7" fill="#000"/>
<circle cx="344.5" cy="95.8" r="4.7" fill="#000"/>
<circle cx="350.2" cy="89.2" r="4.7" fill="#000"/>
<circle cx="355.8" cy="94.1" r="4.7" fill="#000"/>
<circle cx="361.4" cy="148.7" r="4.7" fill="#000"/>
<circle cx="367.2" cy="121.4" r="4.7" fill="#000"/>
<circle cx="372.1" cy="73.4" r="4.7" fill="#000"/>
<circle cx="377.7" cy="90.4" r="4.7" fill="#000"/>
<circle cx="383.4" cy="53.6" r="4.7" fill="#000"/>
<circle cx="389.0" cy="95.0" r="4.7" fill="#000"/>
<circle cx="394.6" cy="89.4" r="4.7" fill="#000"/>
<circle cx="400.2" cy="109.8" r="4.7" fill="#000"/>
<circle cx="405.9" cy="76.3" r="4.7" fill="#000"/>
<circle cx="411.7" cy="130.1" r="4.7" fill="#000"/>
<circle cx="417.3" cy="78.2" r="4.7" fill="#000"/>
<circle cx="422.8" cy="87.1" r="4.7" fill="#000"/>
<circle cx="428.7" cy="109.5" r="4.7" fill="#000"/>
<circle cx="434.1" cy="78.8" r="4.7" fill="#000"/>
<circle cx="439.9" cy="72.9" r="4.7" fill="#000"/>
<circle cx="445.3" cy="73.0" r="4.7" fill="#000"/>
<circle cx="450.4" cy="63.4" r="4.7" fill="#000"/>
<circle cx="456.3" cy="79.0" r="4.7" fill="#000"/>
<circle cx="462.0" cy="83.1" r="4.7" fill="#000"/>
<circle cx="467.5" cy="87.2" r="4.7" fill="#000"/>
<circle cx="473.4" cy="38.2" r="4.7" fill="#000"/>
<circle cx="479.0" cy="37.4" r="4.7" fill="#000"/>
<circle cx="484.5" cy="103.3" r="4.7" fill="#000"/>
<circle cx="490.4" cy="50.3" r="4.7" fill="#000"/>
<circle cx="495.9" cy="29.3" r="4.7" fill="#000"/>
<circle cx="501.9" cy="48.5" r="4.7" fill="#000"/>
<circle cx="507.5" cy="57.7" r="4.7" fill="#000"/>
<circle cx="512.7" cy="71.6" r="4.7" fill="#000"/>
<circle cx="518.3" cy="69.1" r="4.7" fill="#000"/>
<circle cx="523.8" cy="17.1" r="4.7" fill="#000"/>
<circle cx="529.0" cy="97.6" r="4.7" fill="#000"/>
<circle cx="534.9" cy="79.0" r="4.7" fill="#000"/>
<circle cx="540.9" cy="45.6" r="4.7" fill="#000"/>
<circle cx="546.3" cy="111.3" r="4.7" fill="#000"/>
<circle cx="552.1" cy="74.5" r="4.7" fill="#000"/>
<circle cx="557.7" cy="85.2" r="4.7" fill="#000"/>
<circle cx="563.3" cy="52.1" r="4.7" fill="#000"/>
<circle cx="569.0" cy="70.3" r="4.7" fill="#000"/>
<circle cx="574.7" cy="43.9" r="4.7" fill="#000"/>
<circle cx="580.3" cy="67.2" r="4.7" fill="#000"/>
<circle cx="586.3" cy="121.1" r="4.7" fill="#000"/>
<circle cx="591.0" cy="95.2" r="4.7" fill="#000"/>
<circle cx="596.6" cy="39.2" r="4.7" fill="#000"/>
<circle cx="602.6" cy="57.7" r="4.7" fill="#000"/>
<circle cx="608.0" cy="56.2" r="4.7" fill="#000"/>
<circle cx="619.5" cy="59.5" r="4.7" fill="#000"/>
<circle cx="625.1" cy="72.1" r="4.7" fill="#000"/>
<circle cx="630.7" cy="60.2" r="4.7" fill="#000"/>
<circle cx="636.5" cy="32.5" r="4.7" fill="#000"/>
<circle cx="642.1" cy="73.6" r="4.7" fill="#000"/>
<circle cx="647.7" cy="32.6" r="4.7" fill="#000"/>
<circle cx="653.4" cy="45.5" r="4.7" fill="#000"/>
<circle cx="659.2" cy="32.0" r="4.7" fill="#000"/>
<circle cx="664.8" cy="57.1" r="4.7" fill="#000"/>
<circle cx="669.6" cy="72.8" r="4.7" fill="#000"/>
<circle cx="675.4" cy="23.8" r="4.7" fill="#000"/>
<circle cx="680.9" cy="43.3" r="4.7" fill="#000"/>
<circle cx="686.5" cy="86.2" r="4.7" fill="#000"/>
<circle cx="697.8" cy="64.1" r="4.7" fill="#000"/>
<circle cx="703.6" cy="90.3" r="4.7" fill="#000"/>
<circle cx="709.2" cy="50.3" r="4.7" fill="#000"/>
<circle cx="715.0" cy="83.7" r="4.7" fill="#000"/>
<circle cx="720.5" cy="44.4" r="4.7" fill="#000"/>
<circle cx="726.4" cy="50.6" r="4.7" fill="#000"/>
</g>
<text class="lg" x="470.0" y="270.6" textLength="158" lengthAdjust="spacingAndGlyphs">H<tspan font-size="9.5" dy="3">2</tspan><tspan dy="-3">O</tspan><tspan font-size="9.5" dy="3">2</tspan><tspan dy="-3"> : FePcS molar ratio</tspan></text>
<path d="M509.6 293.6L517.6 301.6M509.6 301.6L517.6 293.6" stroke="#000" stroke-width="1.0" fill="none"/>
<text class="lg" x="530.0" y="301.3" textLength="44" lengthAdjust="spacingAndGlyphs">348 : 1</text>
<path d="M513.4 325.7L517.3 332.9L509.5 332.9Z" stroke="#000" stroke-width="1.45" fill="#fff" stroke-linejoin="miter"/>
<text class="lg" x="530.0" y="332.3" textLength="44" lengthAdjust="spacingAndGlyphs">578 : 1</text>
<circle cx="513.4" cy="359.2" r="4.6" fill="#000"/>
<text class="lg" x="529.0" y="362.1" textLength="50.8" lengthAdjust="spacingAndGlyphs">1329 : 1</text>
</svg></body></html>
